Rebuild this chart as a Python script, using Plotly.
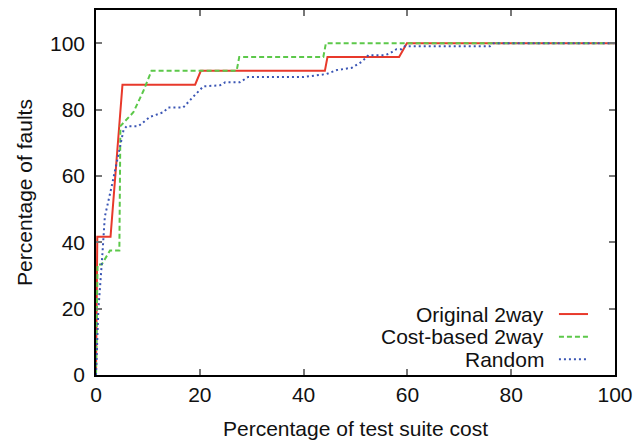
import plotly.graph_objects as go

# Data
red_x = [0, 0.25, 2.8, 5.1, 19.1, 20.2, 44.1, 44.6, 58.4, 59.9, 100]
red_y = [0, 41.67, 41.67, 87.5, 87.5, 91.67, 91.67, 95.83, 95.83, 100, 100]

green_x = [0, 0.3, 1.1, 2.7, 4.5, 4.7, 7.2, 9.1, 10.7, 27.1, 27.6, 43.8, 44.3, 100]
green_y = [0, 33.33, 33.33, 37.5, 37.5, 75, 79.17, 85.5, 91.67, 91.67, 95.83, 95.83, 100, 100]

blue_x = [0, 0.2, 0.45, 1.1, 1.7, 3.0, 4.0, 4.75, 5.3, 5.9, 8.2, 10.4, 13.0, 13.9, 16.8,
          18.7, 20.7, 23.9, 24.9, 27.7, 29.3, 39.9, 44.4, 46.4, 49.3, 51.2, 52.5, 55.7,
          56.6, 57.9, 58.9, 59.5, 75.9, 76.6, 100]
blue_y = [0, 9.6, 19.6, 33.3, 47.7, 56.7, 63.8, 69.8, 73.8, 75.0, 75.0, 77.8, 79.2, 80.6, 80.6,
          83.8, 87.0, 87.3, 88.2, 88.2, 89.8, 89.8, 90.7, 91.9, 92.6, 94.4, 96.4, 96.4,
          96.9, 98.2, 98.2, 99.1, 99.1, 100, 100]

series_names = ["Original 2way", "Cost-based 2way", "Random"]
colors = ["#e8392b", "#5cc84a", "#3a55b4"]
dashes = ["solid", "5px,3px", "2px,3px"]

x_ticks = [0, 20, 40, 60, 80, 100]
y_ticks = [0, 20, 40, 60, 80, 100]

FONT = "Liberation Sans, Arial, sans-serif"
FS = 21

fig = go.Figure()
for xs, ys, name, c, d in zip([red_x, green_x, blue_x], [red_y, green_y, blue_y],
                              series_names, colors, dashes):
    fig.add_trace(go.Scatter(x=xs, y=ys, mode="lines", name=name,
                             line=dict(color=c, width=2, dash=d), showlegend=False))

# gnuplot-style legend (text right-aligned, sample on the right)
leg_y = [0.167, 0.105, 0.043]
for name, c, d, yy in zip(series_names, colors, dashes, leg_y):
    fig.add_annotation(xref="paper", yref="paper", x=0.867, y=yy, text=name,
                       showarrow=False, xanchor="right", yanchor="middle",
                       font=dict(family=FONT, size=FS, color="#111"))
    fig.add_shape(type="line", xref="paper", yref="paper", x0=0.892, x1=0.948,
                  y0=yy, y1=yy, line=dict(color=c, width=2, dash=d))

axis_common = dict(
    showgrid=False, zeroline=False, showline=True, linecolor="black", linewidth=1.5,
    mirror="allticks", ticks="inside", ticklen=6, tickcolor="#777", tickwidth=1.5,
    tickfont=dict(family=FONT, size=FS, color="#111"), automargin=False,
)

fig.update_xaxes(range=[0, 100], tickvals=x_ticks, ticktext=[str(v) for v in x_ticks],
                 title=dict(text="Percentage of test suite cost",
                            font=dict(family=FONT, size=FS, color="#111"), standoff=16),
                 ticklabelstandoff=0, **axis_common)
fig.update_yaxes(range=[0, 110], tickvals=y_ticks, ticktext=[str(v) for v in y_ticks],
                 title=dict(text="Percentage of faults",
                            font=dict(family=FONT, size=FS, color="#111"), standoff=12),
                 ticklabelstandoff=5, **axis_common)

fig.update_layout(
    width=644, height=442,
    margin=dict(l=96, r=29, t=10, b=67),
    plot_bgcolor="white", paper_bgcolor="white",
)

fig.write_html("out.html")
